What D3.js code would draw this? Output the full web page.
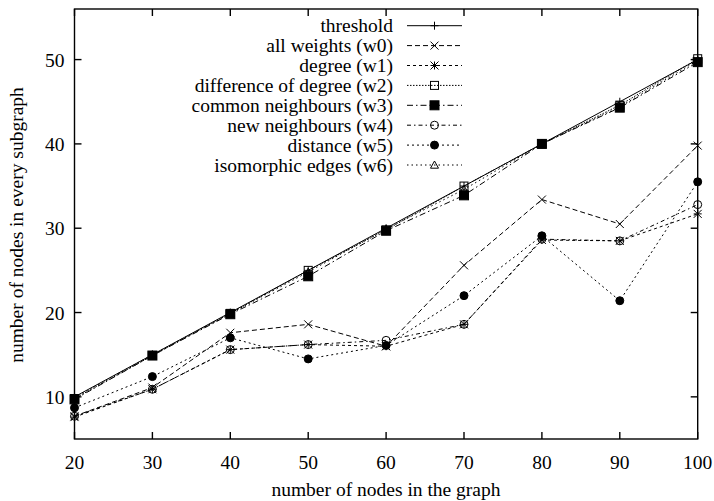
<!DOCTYPE html>
<html>
<head>
<meta charset="UTF-8">
<title>subgraph nodes</title>
<style>
body { margin: 0; background: #fff; }
text { font-family: "Liberation Serif", "DejaVu Serif", serif; fill: #000; font-size: 19.5px; }
.frame { fill: none; stroke: #000; stroke-width: 1.4px; }
.series path.ln { fill: none; stroke: #000; stroke-width: 1px; }
</style>
</head>
<body>
<svg id="chart"></svg>
<script src="https://d3js.org/d3.v7.min.js"></script>
<script>

var xValues = [20, 30, 40, 50, 60, 70, 80, 90, 100];
var threshold = [10, 15, 20, 25, 30, 35, 40, 45, 50];
var w0 = [7.7, 11.1, 17.6, 18.6, 16.0, 25.6, 33.4, 30.5, 39.8];
var w1 = [7.6, 10.9, 15.6, 16.2, 16.0, 18.6, 28.6, 28.5, 31.7];
var w2 = [9.8, 14.9, 19.9, 25.0, 29.8, 35.0, 40.0, 44.6, 50.1];
var w3 = [9.7, 14.9, 19.8, 24.3, 29.7, 33.9, 40.0, 44.3, 49.7];
var w4 = [7.7, 10.9, 15.6, 16.2, 16.7, 18.6, 28.7, 28.5, 32.8];
var w5 = [8.7, 12.4, 17.0, 14.5, 16.1, 22.0, 29.1, 21.4, 35.5];
var w6 = [9.9, 15.0, 19.9, 24.8, 29.9, 34.6, 40.0, 44.4, 49.9];
var yTicks = [10, 20, 30, 40, 50];

var series = [
  { name: "threshold", values: threshold, dash: null, mark: "plus" },
  { name: "all weights (w0)", values: w0, dash: "5,3", mark: "cross" },
  { name: "degree (w1)", values: w1, dash: "3,3", mark: "star" },
  { name: "difference of degree (w2)", values: w2, dash: "1.5,1.5", mark: "square" },
  { name: "common neighbours (w3)", values: w3, dash: "6,3,1.5,3", mark: "fsquare" },
  { name: "new neighbours (w4)", values: w4, dash: "4,3,1.5,3", mark: "circle" },
  { name: "distance (w5)", values: w5, dash: "2,3", mark: "fcircle" },
  { name: "isomorphic edges (w6)", values: w6, dash: "1.5,3", mark: "triangle" }
];

var W = 714, H = 501;
var pLeft = 74.5, pRight = 697.7, pTop = 9, pBottom = 439;

var svg = d3.select("#chart").attr("width", W).attr("height", H);

var x = d3.scaleLinear().domain([20, 100]).range([pLeft, pRight]);
var y = d3.scaleLinear().domain([5, 56]).range([pBottom, pTop]);

// ticks on all four sides, pointing in
var tl = 7;
var g = svg.append("g").attr("stroke", "#000").attr("stroke-width", 1.4);
xValues.forEach(function (v) {
  g.append("line").attr("x1", x(v)).attr("x2", x(v)).attr("y1", pBottom).attr("y2", pBottom - tl);
  g.append("line").attr("x1", x(v)).attr("x2", x(v)).attr("y1", pTop).attr("y2", pTop + tl);
});
yTicks.forEach(function (v) {
  g.append("line").attr("x1", pLeft).attr("x2", pLeft + tl).attr("y1", y(v)).attr("y2", y(v));
  g.append("line").attr("x1", pRight).attr("x2", pRight - tl).attr("y1", y(v)).attr("y2", y(v));
});

svg.selectAll(".xl").data(xValues).enter().append("text")
  .attr("x", function (d) { return x(d); }).attr("y", pBottom + 30)
  .attr("text-anchor", "middle").text(function (d) { return d; });
svg.selectAll(".yl").data(yTicks).enter().append("text")
  .attr("x", pLeft - 10).attr("y", function (d) { return y(d) + 7; })
  .attr("text-anchor", "end").text(function (d) { return d; });

svg.append("text").attr("x", 386).attr("y", 496).attr("text-anchor", "middle")
  .text("number of nodes in the graph");
svg.append("text").attr("transform", "translate(23,225) rotate(-90)").attr("text-anchor", "middle")
  .text("number of nodes in every subgraph");

function marker(sel, kind, cx, cy) {
  var s = 4;
  var m = sel.append("g").attr("transform", "translate(" + cx + "," + cy + ")")
    .attr("stroke", "#000").attr("stroke-width", 1).attr("fill", "none");
  if (kind === "plus" || kind === "star") {
    m.append("line").attr("x1", -s).attr("x2", s).attr("y1", 0).attr("y2", 0);
    m.append("line").attr("x1", 0).attr("x2", 0).attr("y1", -s).attr("y2", s);
  }
  if (kind === "cross" || kind === "star") {
    m.append("line").attr("x1", -s).attr("x2", s).attr("y1", -s).attr("y2", s);
    m.append("line").attr("x1", -s).attr("x2", s).attr("y1", s).attr("y2", -s);
  }
  if (kind === "square") m.append("rect").attr("x", -s).attr("y", -s).attr("width", 2 * s).attr("height", 2 * s);
  if (kind === "fsquare") m.append("rect").attr("x", -s - 0.5).attr("y", -s - 0.5).attr("width", 2 * s + 1).attr("height", 2 * s + 1).attr("fill", "#000");
  if (kind === "circle") m.append("circle").attr("r", s);
  if (kind === "fcircle") m.append("circle").attr("r", s).attr("fill", "#000");
  if (kind === "triangle") m.append("path").attr("d", "M0," + (-s) + "L" + s + "," + (s * 0.8) + "L" + (-s) + "," + (s * 0.8) + "Z");
}

var line = d3.line().x(function (d, i) { return x(xValues[i]); }).y(function (d) { return y(d); });

series.forEach(function (sr, k) {
  var sg = svg.append("g").attr("class", "series");
  sg.append("path").attr("class", "ln").attr("d", line(sr.values))
    .attr("stroke-dasharray", sr.dash);
  sr.values.forEach(function (v, i) { marker(sg, sr.mark, x(xValues[i]), y(v)); });

  // legend
  var ly = 25.7 + k * 19.9;
  svg.append("text").attr("x", 393).attr("y", ly + 6.5).attr("text-anchor", "end")
    .text(sr.name);
  svg.append("line").attr("x1", 407).attr("x2", 462).attr("y1", ly).attr("y2", ly)
    .attr("stroke", "#000").attr("stroke-width", 1).attr("stroke-dasharray", sr.dash);
  marker(svg, sr.mark, 434.5, ly);
});

svg.append("rect").attr("class", "frame").attr("x", pLeft).attr("y", pTop)
  .attr("width", pRight - pLeft).attr("height", pBottom - pTop);

</script>
</body>
</html>
